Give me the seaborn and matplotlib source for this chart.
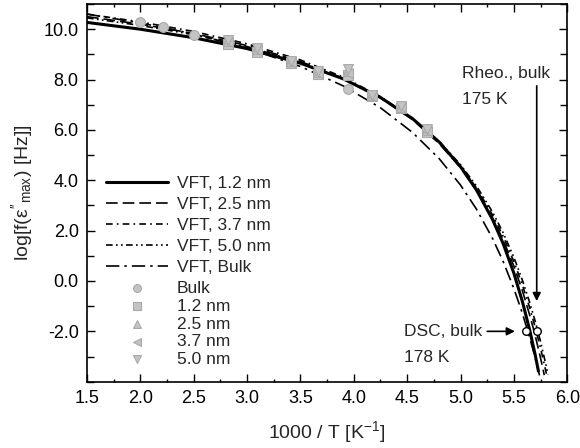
import matplotlib
matplotlib.use("Agg")
import matplotlib.pyplot as plt
import seaborn as sns
import pandas as pd
from matplotlib.ticker import MultipleLocator, FormatStrFormatter

# ---------------- data ----------------
# VFT fit curves: x = 1000/T, y = log f
vft_12_x = [1.5, 2.0, 2.5, 3.0, 3.5, 3.9, 4.25, 4.55, 4.8, 5.0, 5.15, 5.3, 5.4, 5.5, 5.58, 5.65, 5.7, 5.73]
vft_12_y = [10.27, 10.00, 9.66, 9.23, 8.65, 8.03, 7.29, 6.45, 5.52, 4.54, 3.61, 2.44, 1.48, 0.31, -0.82, -1.98, -2.94, -3.58]

vft_25_x = [1.5, 2.0, 2.5, 3.0, 3.5, 3.9, 4.25, 4.55, 4.8, 5.0, 5.15, 5.3, 5.4, 5.5, 5.58, 5.65, 5.7, 5.75, 5.785]
vft_25_y = [10.50, 10.20, 9.83, 9.35, 8.72, 8.05, 7.27, 6.41, 5.46, 4.50, 3.60, 2.51, 1.62, 0.59, -0.39, -1.38, -2.17, -3.06, -3.74]

vft_37_x = [1.5, 2.0, 2.5, 3.0, 3.5, 3.9, 4.25, 4.55, 4.8, 5.0, 5.15, 5.3, 5.4, 5.5, 5.58, 5.65, 5.7, 5.75, 5.8, 5.806]
vft_37_y = [10.60, 10.29, 9.91, 9.42, 8.78, 8.10, 7.32, 6.45, 5.52, 4.57, 3.69, 2.62, 1.77, 0.77, -0.16, -1.09, -1.84, -2.67, -3.59, -3.71]

vft_50_x = [1.5, 2.0, 2.5, 3.0, 3.5, 3.9, 4.25, 4.55, 4.8, 5.0, 5.15, 5.3, 5.4, 5.5, 5.58, 5.65, 5.7, 5.75, 5.8, 5.82]
vft_50_y = [10.45, 10.15, 9.78, 9.31, 8.69, 8.04, 7.29, 6.45, 5.54, 4.62, 3.77, 2.74, 1.91, 0.94, 0.03, -0.88, -1.60, -2.41, -3.32, -3.71]

vft_bulk_x = [1.5, 2.0, 2.5, 3.0, 3.5, 3.9, 4.25, 4.55, 4.8, 5.0, 5.15, 5.3, 5.4, 5.5, 5.58, 5.65, 5.7, 5.74]
vft_bulk_y = [10.60, 10.25, 9.81, 9.25, 8.52, 7.75, 6.88, 5.90, 4.86, 3.81, 2.85, 1.69, 0.77, -0.30, -1.29, -2.28, -3.06, -3.75]

# dielectric data points
bulk_x = [2.00, 2.21, 2.50, 2.82, 3.09, 3.41, 3.66, 3.95]
bulk_y = [10.27, 10.07, 9.77, 9.46, 9.14, 8.68, 8.26, 7.61]

nano_x = [2.82, 3.09, 3.41, 3.66, 3.95, 4.17, 4.44, 4.69]
n12_y = [9.42, 9.10, 8.66, 8.24, 8.18, 7.33, 6.86, 5.92]
n25_y = [9.52, 9.20, 8.72, 8.32, 8.34, 7.38, 6.92, 5.98]
n37_y = [9.48, 9.16, 8.70, 8.28, 8.26, 7.36, 6.90, 5.96]
n50_y = [9.58, 9.26, 8.74, 8.36, 8.40, 7.40, 6.95, 6.02]

# DSC / rheology bulk glass transitions (1000/178 K, 1000/175 K)
tg_x = [5.618, 5.714]
tg_y = [-2.0, -2.0]

# ---------------- style ----------------
sns.set_theme(style="ticks")
plt.rcParams["font.family"] = ["Liberation Sans", "DejaVu Sans"]
plt.rcParams["mathtext.fontset"] = "custom"
plt.rcParams["mathtext.rm"] = "Liberation Sans"
plt.rcParams["mathtext.it"] = "Liberation Sans:italic"
plt.rcParams["axes.unicode_minus"] = False

fig = plt.figure(figsize=(5.8, 4.48), dpi=100)
ax = fig.add_axes([0.150, 0.148, 0.828, 0.843])

line_specs = [
    (vft_12_x, vft_12_y, "VFT, 1.2 nm", (None), 2.2),
    (vft_25_x, vft_25_y, "VFT, 2.5 nm", (7, 3), 1.2),
    (vft_37_x, vft_37_y, "VFT, 3.7 nm", (4, 2.5, 1, 2.5), 1.2),
    (vft_50_x, vft_50_y, "VFT, 5.0 nm", (4, 2, 1, 2, 1, 2), 1.2),
    (vft_bulk_x, vft_bulk_y, "VFT, Bulk", (8, 3, 1.5, 3), 1.2),
]
for xs, ys, lab, dash, lw in line_specs:
    df = pd.DataFrame({"x": xs, "y": ys})
    sns.lineplot(data=df, x="x", y="y", ax=ax, color="black", lw=lw,
                 sort=False, estimator=None, label=lab)
    ln = ax.lines[-1]
    if dash is not None:
        ln.set_dashes(dash)

marker_face = "#c4c4c4"
marker_edge = "#a9a9a9"
marker_specs = [
    (bulk_x, bulk_y, "Bulk", "o"),
    (nano_x, n12_y, "1.2 nm", "s"),
    (nano_x, n25_y, "2.5 nm", "^"),
    (nano_x, n37_y, "3.7 nm", "<"),
    (nano_x, n50_y, "5.0 nm", "v"),
]
for xs, ys, lab, mk in marker_specs:
    df = pd.DataFrame({"x": xs, "y": ys})
    sns.scatterplot(data=df, x="x", y="y", ax=ax, marker=mk, s=50,
                    color=marker_face, edgecolor=marker_edge, linewidth=0.8,
                    label=lab, zorder=3)

# DSC / Rheo open circles
sns.scatterplot(x=tg_x, y=tg_y, ax=ax, marker="o", s=30, facecolor="white",
                edgecolor="black", linewidth=1.0, zorder=4, legend=False)

ax.set_xlim(1.5, 6.0)
ax.set_ylim(-4.0, 11.0)
ax.xaxis.set_major_locator(MultipleLocator(0.5))
ax.xaxis.set_minor_locator(MultipleLocator(0.25))
ax.yaxis.set_minor_locator(MultipleLocator(1.0))
ax.xaxis.set_major_formatter(FormatStrFormatter("%.1f"))
yt = [-2, 0, 2, 4, 6, 8, 10]
ax.set_yticks(yt)
ax.set_yticklabels([f"{v:.1f}" for v in yt])

ax.tick_params(which="both", direction="in", top=True, right=True,
               labelsize=13, width=1.0, colors="black", pad=6)
ax.tick_params(which="major", length=5.5)
ax.tick_params(axis="x", which="minor", length=2.5)
ax.tick_params(axis="y", which="minor", length=5.0)
for sp in ax.spines.values():
    sp.set_linewidth(1.2)
    sp.set_color("black")

ax.set_xlabel(r"1000 / T [K$^{\mathregular{-1}}$]", fontsize=14, labelpad=9)
ax.set_ylabel(r"log[f(ε$''_{\mathregular{max}}$) [Hz]]", fontsize=14, labelpad=6)

# legends
handles, labels = ax.get_legend_handles_labels()
hl = dict(zip(labels, handles))
leg1 = ax.legend([hl[s[2]] for s in line_specs], [s[2] for s in line_specs],
                 loc="upper left", bbox_to_anchor=(0.039, 0.545), frameon=False,
                 fontsize=12.5, handlelength=3.6, handletextpad=0.5,
                 labelspacing=0.34, borderpad=0, borderaxespad=0)
ax.add_artist(leg1)
ax.legend([hl[s[2]] for s in marker_specs], [s[2] for s in marker_specs],
          loc="upper left", bbox_to_anchor=(0.039, 0.267), frameon=False,
          fontsize=12.5, handlelength=3.6, handletextpad=0.5,
          labelspacing=0.15, borderpad=0, borderaxespad=0, markerscale=0.8)

# annotations
ax.text(5.01, 8.25, "Rheo., bulk", fontsize=12.5, ha="left", va="center")
ax.text(5.01, 7.21, "175 K", fontsize=12.5, ha="left", va="center")
ax.annotate("", xy=(5.714, -0.8), xytext=(5.714, 7.75),
            arrowprops=dict(arrowstyle="-|>", color="black", lw=1.2,
                            mutation_scale=12, shrinkA=0, shrinkB=0))
ax.text(4.47, -2.0, "DSC, bulk", fontsize=12.5, ha="left", va="center")
ax.text(4.47, -3.05, "178 K", fontsize=12.5, ha="left", va="center")
ax.annotate("", xy=(5.51, -2.0), xytext=(5.25, -2.0),
            arrowprops=dict(arrowstyle="-|>", color="black", lw=1.2,
                            mutation_scale=12, shrinkA=0, shrinkB=0))

fig.savefig("out.png", dpi=100)
